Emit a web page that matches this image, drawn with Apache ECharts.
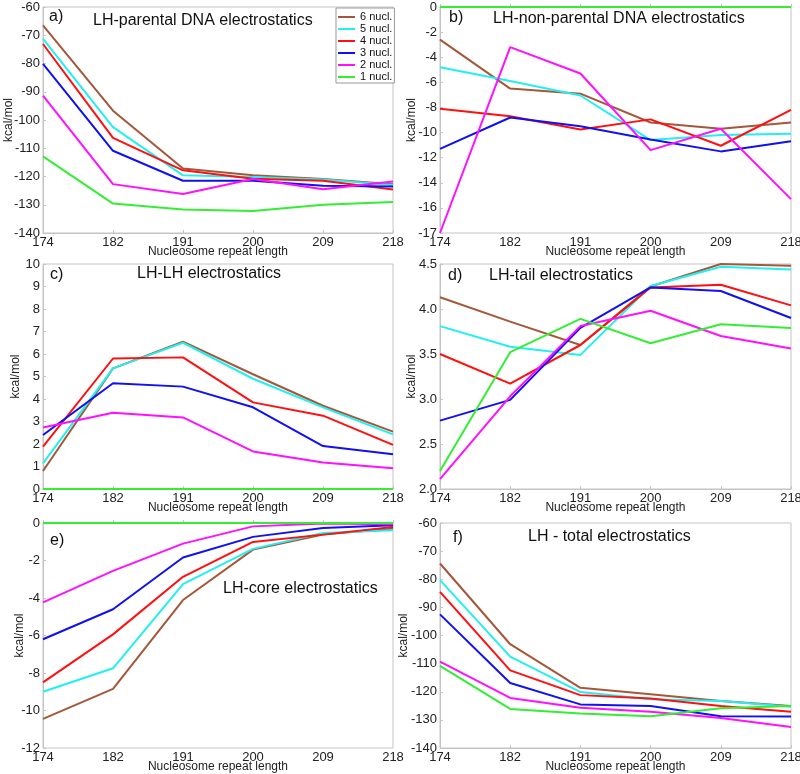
<!DOCTYPE html>
<html>
<head>
<meta charset="utf-8">
<script src="https://cdn.jsdelivr.net/npm/echarts@6/dist/echarts.min.js"></script>
<style>
  html, body { margin: 0; padding: 0; background: #fff; }
  #chart { width: 800px; height: 774px; }
</style>
</head>
<body>
<div id="chart"></div>
<script>
// x categories (nucleosome repeat length)
var repeatLengths = ['174', '182', '191', '200', '209', '218'];
// legend names, same order as the rows of every panel array
var seriesNames = ['6 nucl.', '5 nucl.', '4 nucl.', '3 nucl.', '2 nucl.', '1 nucl.'];

// a) LH-parental DNA
var parentalDNA = [
	[-66.5, -96.7, -117.2, -119.6, -120.9, -122.7],
	[-71.3, -102.5, -119.6, -120.2, -121.1, -123.0],
	[-73.1, -106.3, -117.8, -120.8, -121.5, -124.6],
	[-80.1, -110.9, -121.5, -121.5, -123.3, -123.5],
	[-91.4, -122.7, -126.2, -120.9, -124.5, -121.8],
	[-112.9, -129.6, -131.7, -132.2, -130.0, -129.0]
];
// b) LH-non-parental DNA
var nonParentalDNA = [
	[-2.6, -6.5, -6.9, -9.2, -9.7, -9.2],
	[-4.8, -5.9, -7.05, -10.6, -10.2, -10.1],
	[-8.1, -8.7, -9.75, -8.95, -11.05, -8.2],
	[-11.3, -8.8, -9.5, -10.55, -11.5, -10.7],
	[-18.0, -3.2, -5.3, -11.4, -9.7, -15.3],
	[0, 0, 0, 0, 0, 0]
];
// c) LH-LH
var lhLH = [
	[0.8, 5.36, 6.55, 5.1, 3.7, 2.55],
	[1.14, 5.36, 6.5, 4.9, 3.63, 2.43],
	[1.88, 5.8, 5.85, 3.85, 3.26, 1.96],
	[2.4, 4.7, 4.55, 3.63, 1.91, 1.54],
	[2.73, 3.39, 3.18, 1.67, 1.18, 0.92],
	[0, 0, 0, 0, 0, 0]
];
// d) LH-tail
var lhTail = [
	[4.13, 3.86, 3.6, 4.25, 4.5, 4.48],
	[3.81, 3.58, 3.49, 4.255, 4.47, 4.44],
	[3.5, 3.17, 3.6, 4.24, 4.27, 4.04],
	[2.76, 2.99, 3.79, 4.24, 4.2, 3.9],
	[2.11, 3.03, 3.81, 3.98, 3.7, 3.56],
	[2.2, 3.52, 3.89, 3.62, 3.83, 3.79]
];
// e) LH-core
var lhCore = [
	[-10.45, -8.85, -4.11, -1.42, -0.62, -0.3],
	[-9.0, -7.75, -3.26, -1.38, -0.53, -0.39],
	[-8.5, -5.94, -2.87, -1.01, -0.62, -0.21],
	[-6.2, -4.6, -1.84, -0.74, -0.27, -0.12],
	[-4.23, -2.55, -1.1, -0.18, -0.03, -0.07],
	[0, 0, 0, 0, 0, 0]
];
// f) LH - total
var lhTotal = [
	[-74.4, -103.1, -118.6, -120.9, -123.3, -125.1],
	[-80.3, -107.5, -120.1, -122.7, -123.3, -125.3],
	[-84.5, -112.4, -121.2, -122.4, -125.1, -127.1],
	[-92.5, -116.9, -124.5, -125.1, -128.7, -128.8],
	[-109.3, -122.2, -125.7, -127.1, -129.3, -132.5],
	[-110.8, -126.1, -127.7, -128.7, -125.9, -125.1]
];

var lineColors = ['#a5573a', '#22f0f0', '#ff1010', '#1010f0', '#ff10ff', '#33ee33'];
var FONT = 'Liberation Sans';

// panel layout: grid box, y range, title placement
var panels = [
	{ tag: 'a)', title: 'LH-parental DNA electrostatics', data: parentalDNA,
	  grid: [43, 7, 350, 226], min: -140, max: -60, step: 10, nameGap: 28,
	  tagPos: [49, 9], titlePos: [93, 13] },
	{ tag: 'b)', title: 'LH-non-parental DNA electrostatics', data: nonParentalDNA,
	  grid: [440, 7, 351, 226], min: -18, max: 0, step: 2, nameGap: 22,
	  tagPos: [449, 10], titlePos: [493, 11] },
	{ tag: 'c)', title: 'LH-LH electrostatics', data: lhLH,
	  grid: [43, 264, 350, 225], min: 0, max: 10, step: 1, nameGap: 21,
	  tagPos: [50, 267], titlePos: [137, 266] },
	{ tag: 'd)', title: 'LH-tail electrostatics', data: lhTail,
	  grid: [440, 264, 351, 225], min: 2, max: 4.5, step: 0.5, nameGap: 22, fixed: 1,
	  tagPos: [448, 268], titlePos: [489, 268] },
	{ tag: 'e)', title: 'LH-core electrostatics', data: lhCore,
	  grid: [43, 523, 350, 225], min: -12, max: 0, step: 2, nameGap: 17,
	  tagPos: [50, 533], titlePos: [223, 581] },
	{ tag: 'f)', title: 'LH - total electrostatics', data: lhTotal,
	  grid: [440, 523, 351, 225], min: -140, max: -60, step: 10, nameGap: 30,
	  tagPos: [453, 530], titlePos: [528, 529] }
];

var titles = [], grids = [], xAxes = [], yAxes = [], series = [];
panels.forEach(function (p, i) {
	titles.push({ text: p.tag, left: p.tagPos[0], top: p.tagPos[1], padding: 0,
		textStyle: { fontFamily: FONT, fontSize: 16, fontWeight: 'normal', color: '#111' } });
	titles.push({ text: p.title, left: p.titlePos[0], top: p.titlePos[1], padding: 0,
		textStyle: { fontFamily: FONT, fontSize: 16, fontWeight: 'normal', color: '#111' } });
	grids.push({ left: p.grid[0], top: p.grid[1], width: p.grid[2], height: p.grid[3],
		outerBoundsMode: 'none', containLabel: false,
		show: true, borderColor: '#c4c4c4', borderWidth: 1 });
	xAxes.push({
		gridIndex: i, type: 'category', boundaryGap: false, data: repeatLengths,
		name: 'Nucleosome repeat length', nameLocation: 'middle', nameGap: 13,
		nameMoveOverlap: false,
		nameTextStyle: { fontFamily: FONT, fontSize: 12, color: '#222' },
		axisLine: { lineStyle: { color: '#c4c4c4' } },
		axisTick: { inside: true, length: 3, lineStyle: { color: '#c4c4c4' } },
		axisLabel: { fontFamily: FONT, fontSize: 13, color: '#222', margin: 3 },
		splitLine: { show: false }
	});
	yAxes.push({
		gridIndex: i, type: 'value', min: p.min, max: p.max, interval: p.step,
		name: 'kcal/mol', nameLocation: 'middle', nameGap: p.nameGap,
		nameMoveOverlap: false,
		nameTextStyle: { fontFamily: FONT, fontSize: 12, color: '#222' },
		axisLine: { show: true, lineStyle: { color: '#c4c4c4' } },
		axisTick: { show: true, inside: true, length: 3, lineStyle: { color: '#c4c4c4' } },
		axisLabel: {
			fontFamily: FONT, fontSize: 13, color: '#222', margin: 3,
			formatter: function (v) {
				// the reference labels the bottom of panel b as -17
				if (i === 1 && v === -18) return '-17';
				return p.fixed ? v.toFixed(p.fixed) : String(v);
			}
		},
		splitLine: { show: false }
	});
	p.data.forEach(function (row, k) {
		series.push({
			name: seriesNames[k], type: 'line', xAxisIndex: i, yAxisIndex: i,
			data: row, symbol: 'none', clip: false, z: 2 + k,
			lineStyle: { color: lineColors[k], width: 2 },
			itemStyle: { color: lineColors[k] }
		});
	});
});

var chart = echarts.init(document.getElementById('chart'), null, { renderer: 'canvas' });
chart.setOption({
	animation: false,
	backgroundColor: '#fff',
	title: titles,
	legend: {
		data: seriesNames, orient: 'vertical', left: 336, top: 8,
		backgroundColor: '#fff', borderColor: '#999', borderWidth: 1,
		padding: [3, 2, 0, 2], itemGap: 0, itemWidth: 17, itemHeight: 2,
		icon: 'rect', selectedMode: false,
		textStyle: { fontFamily: FONT, fontSize: 11, lineHeight: 12, color: '#111' }
	},
	grid: grids,
	xAxis: xAxes,
	yAxis: yAxes,
	series: series
});
</script>
</body>
</html>
